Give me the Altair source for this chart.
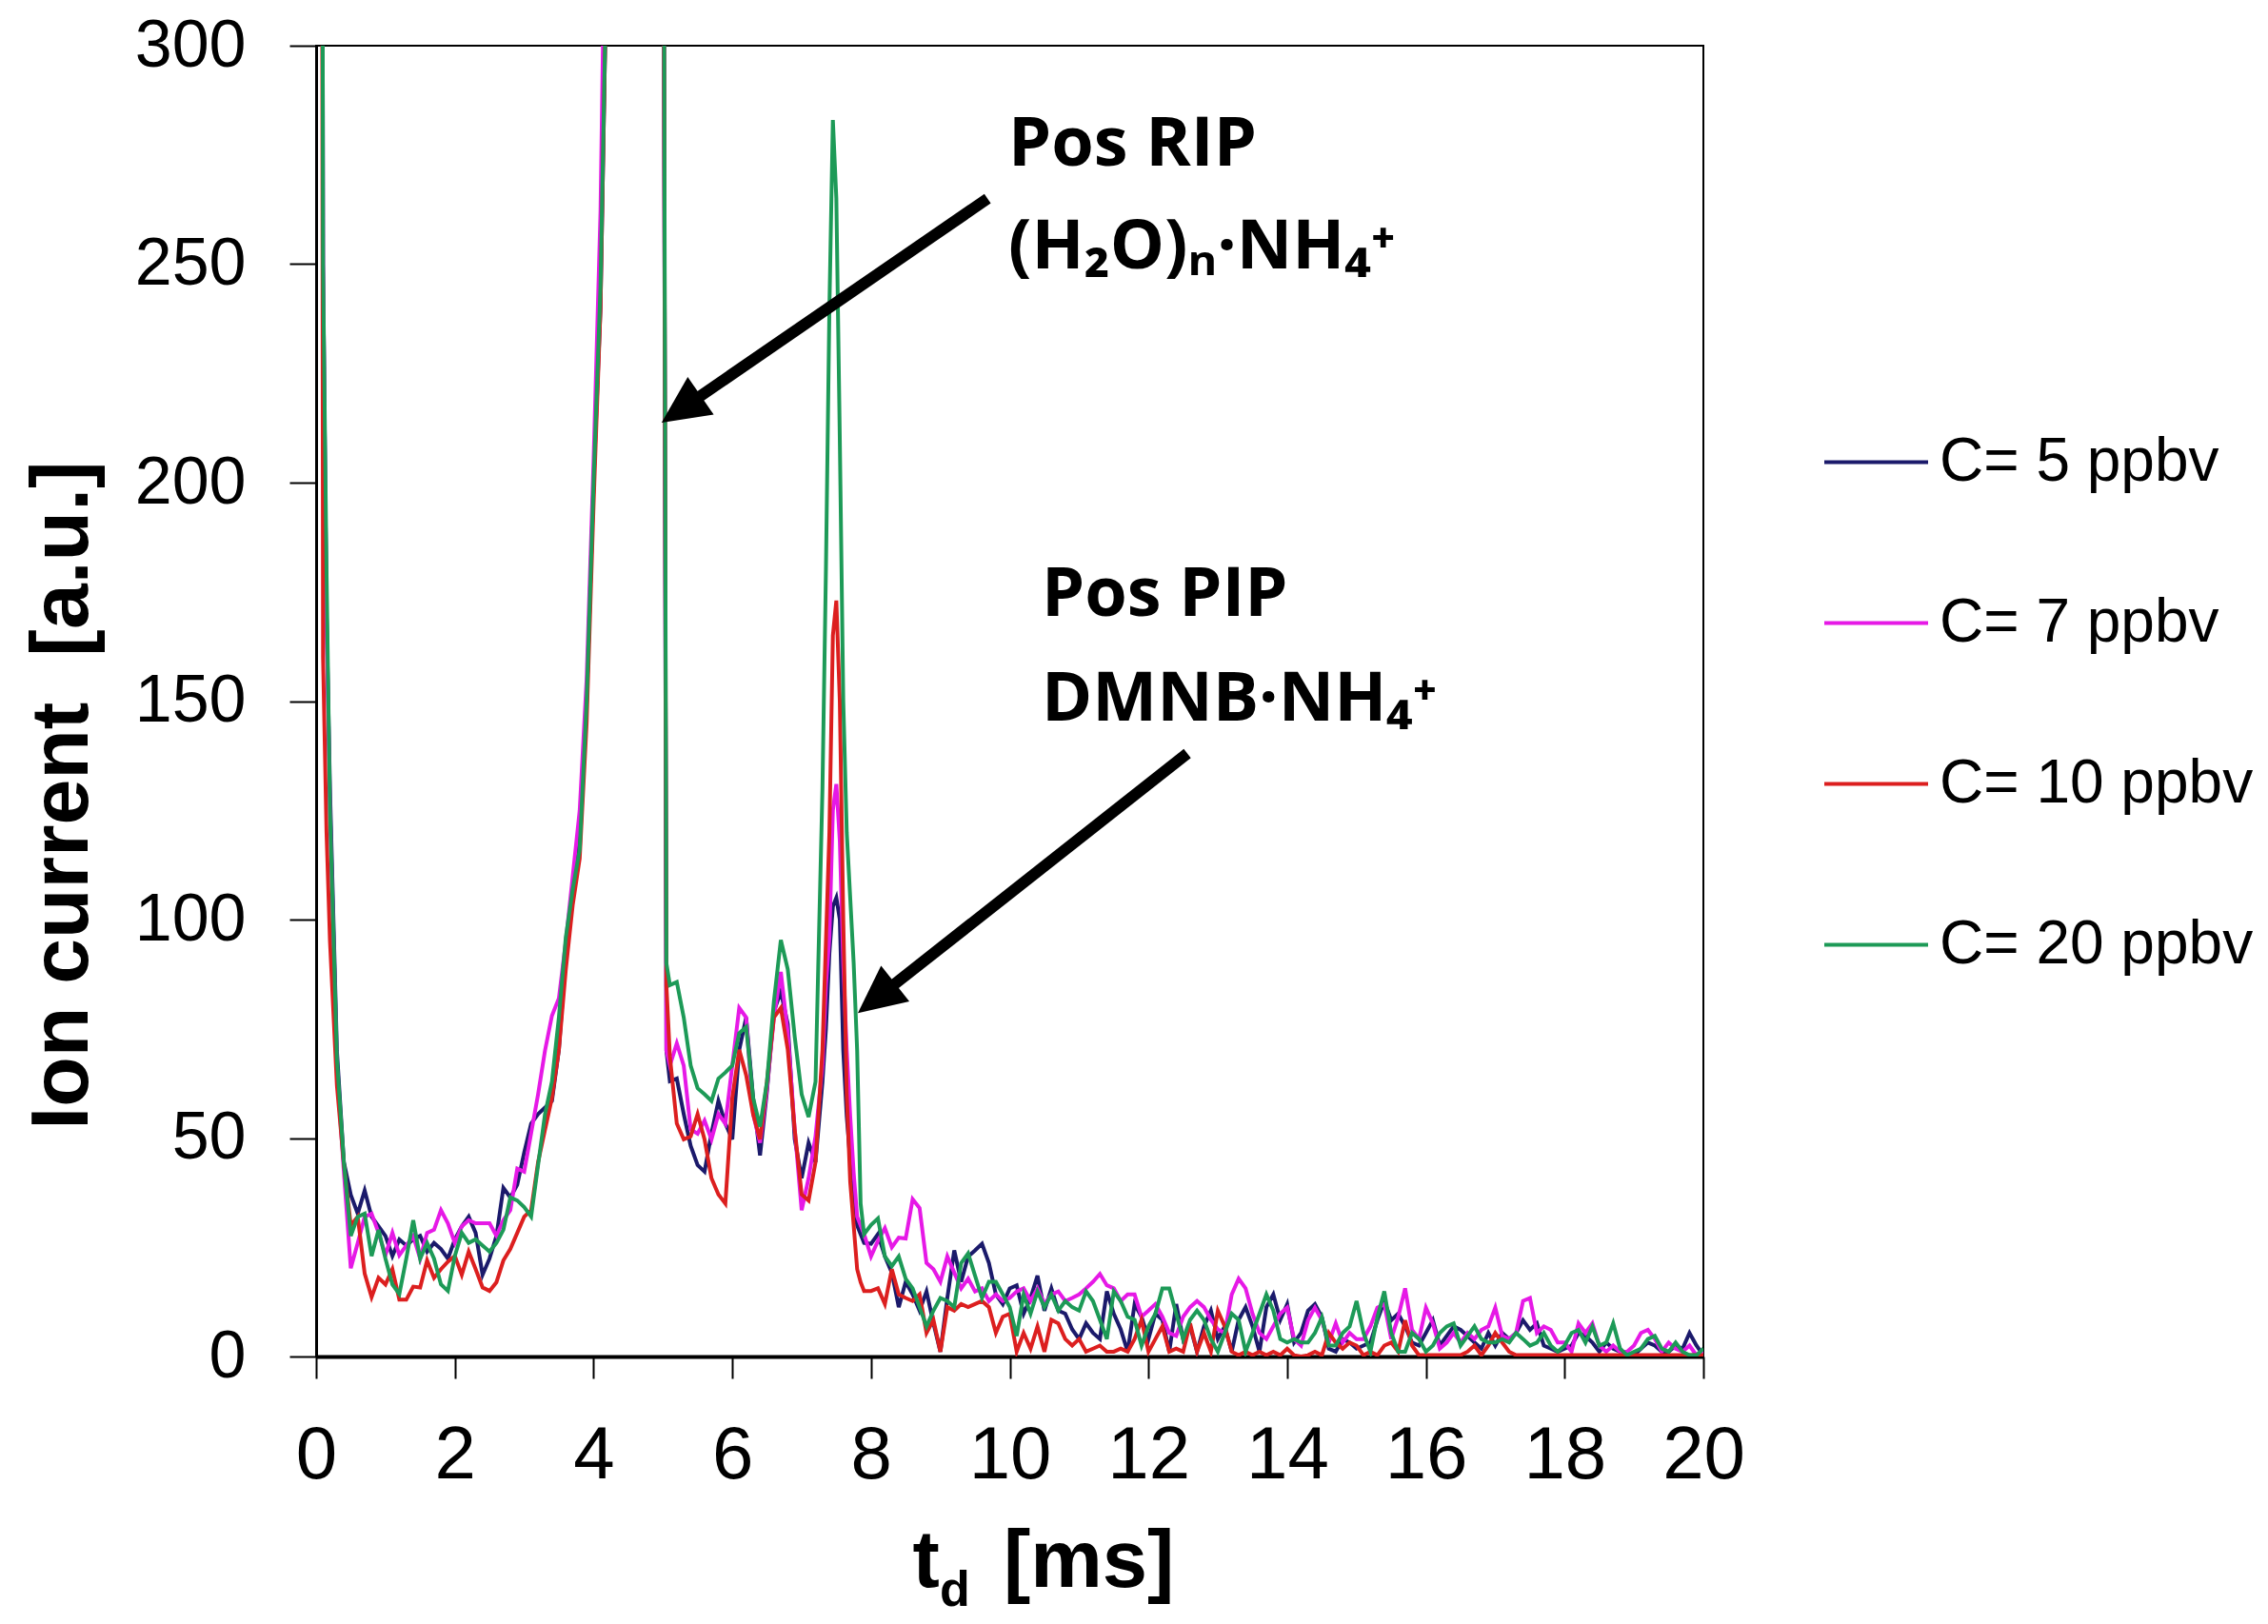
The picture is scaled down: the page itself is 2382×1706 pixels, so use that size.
import altair as alt
import pandas as pd

# ---------------- data ----------------
SERIES = ["C= 5 ppbv", "C= 7 ppbv", "C= 10 ppbv", "C= 20 ppbv"]
COLORS = ["#1b1a6b", "#e619e6", "#dc1f1f", "#1d9a57"]

T_BASE = [round(i * 0.1, 1) for i in range(201)]
EXTRA_T = [0.05, 0.15, 5.05, 7.35, 7.45, 7.55, 7.65, 7.75, 7.85]

NAVY = [
    2000, 250, 130, 70, 44.5, 37, 32.7, 38, 32, 29.8,
    27.6, 23, 26.8, 25.4, 26.8, 27.6, 24, 26, 24.6, 22.4,
    26.8, 29.8, 32, 28.3, 18.7, 22.4, 27.6, 38.6, 36.4, 39.3,
    46.7, 53.3, 55.5, 57, 58.5, 70.2, 92.3, 107, 118, 150,
    200, 240, 330, 700, 1500, 3000, 2500, 1500, 900, 600,
    400, 63, 63.6, 55.5, 48.2, 43.8, 42.3, 51.1, 58.5, 53.3,
    49.7, 70.2, 77.6, 59.2, 46, 60.7, 79, 83.5, 76.1, 49.7,
    40.8, 48.9, 44.5, 62.9, 92.3, 105, 70, 45, 30, 26,
    25.8, 28, 22.9, 19.2, 11.3, 17.1, 14.2, 10.5, 14.9, 7.6,
    1.1, 13.4, 24.3, 17.1, 22.9, 24.3, 25.8, 21.4, 14.2, 12,
    15.6, 16.3, 9.8, 13.4, 18.5, 10.5, 15.6, 10.5, 9.8, 6.2,
    4, 7.6, 5.4, 4, 14.9, 9.8, 6.2, 1.1, 12, 9.1,
    4, 9.8, 8.4, 1.1, 12, 4, 6.9, 1.1, 6.9, 10.5,
    4, 6.9, 1.1, 8.4, 11.3, 6.9, 1.1, 11.3, 14.2, 8.4,
    12, 3.2, 5.4, 10.5, 12, 9, 1.8, 1.1, 4, 3.2,
    1.8, 2.5, 3.2, 8.3, 12.7, 8.3, 9.8, 6.9, 3.2, 2.5,
    5.4, 8.3, 2.5, 4.7, 6.9, 6.1, 4.7, 3.2, 1.8, 5.4,
    2.5, 5.4, 4, 5.4, 8.3, 6.1, 7.6, 2.5, 1.8, 1.1,
    1.8, 2.5, 5.4, 4.7, 3.2, 1.1, 3.2, 1.8, 1.1, 0.3,
    0.3, 1.8, 3.2, 2.5, 1.1, 1.1, 2.5, 1.8, 5.4, 2.5,
    0.3,
]
NAVY_X = [800, 170, 70, 75, 103, 100, 55, 38, 28]

MAGENTA = [
    2000, 250, 125, 66, 42.3, 20.2, 26, 32, 32.7, 28.3,
    23.2, 28.3, 23.2, 25.4, 27.6, 22.4, 28.3, 29, 33.5, 30.5,
    26, 29.8, 31.2, 30.5, 30.5, 30.5, 27.6, 31.2, 33.5, 43,
    42.3, 51.1, 60, 70, 78, 82, 95, 110, 125, 155,
    205, 262, 370, 750, 1500, 3000, 2500, 1500, 900, 600,
    400, 66.6, 71.7, 66.6, 52, 51, 54, 49.7, 55.5, 53.3,
    66.6, 79.8, 77.6, 55.5, 48.9, 61.4, 77.6, 88, 74, 52,
    33.5, 40.8, 50.4, 66.6, 96, 131, 90, 55, 32, 28,
    22.9, 26.5, 29.4, 25, 27.2, 27, 36, 34, 21.4, 20,
    17.1, 22.9, 19.2, 15.6, 17.8, 14.9, 15.6, 12.7, 14.2, 12.7,
    13.4, 14.9, 15.6, 12.7, 15.6, 12, 14.2, 14.9, 12.7, 13.4,
    14.2, 15.6, 17.1, 18.9, 16.3, 15.6, 12.7, 14.2, 14.2, 9.1,
    10.5, 12, 9.1, 5.4, 4.7, 9.1, 11.3, 12.7, 11.3, 8.4,
    6.2, 5.4, 14.2, 17.8, 15.6, 9.8, 5.4, 4, 6.9, 9.8,
    11.2, 4, 2.5, 8.3, 11.2, 8.3, 3.2, 7.6, 3.2, 5.4,
    4, 4, 6.9, 11.2, 12, 4, 9, 15.6, 6.1, 4,
    11.2, 7.6, 1.8, 3.2, 5.4, 3.2, 5.4, 4, 6.1, 6.9,
    11.2, 4.7, 4, 5.4, 12.7, 13.4, 5.4, 6.9, 6.1, 3.2,
    3.2, 1.1, 7.6, 5.4, 7.6, 2.5, 1.1, 2.5, 1.1, 1.1,
    2.5, 5.4, 6.1, 4, 1.1, 3.2, 1.8, 1.1, 2.5, 0.3,
    1.1,
]
MAGENTA_X = [800, 170, 70, 85, 125, 118, 70, 42, 30]

RED = [
    2000, 160, 95, 62, 44, 30, 32, 19, 13.6, 18,
    16.5, 20, 13, 13, 16, 15.8, 22, 18, 20, 21.7,
    23, 18.7, 24, 20, 15.8, 15, 17, 22, 24.6, 28.3,
    32, 33.5, 44.5, 51.9, 59.2, 70.2, 88.6, 103.4, 114, 145,
    195, 240, 330, 700, 1500, 3000, 2500, 1500, 900, 600,
    400, 68.7, 53.3, 49.7, 50.4, 55.5, 49.7, 40.8, 37.1, 35,
    59.2, 70.2, 64.4, 55.5, 49.7, 62.9, 77.6, 79.8, 70.2, 52,
    37.1, 35.7, 44.5, 70.2, 120, 173, 100, 40, 20, 15,
    15, 15.6, 12, 20, 14.2, 13.4, 12.7, 14.2, 5.4, 8.4,
    1.1, 11.3, 10.5, 12, 11.3, 12, 12.7, 11.3, 5.4, 9.1,
    9.8, 1.1, 5.4, 1.8, 6.9, 1.1, 8.4, 7.6, 4, 2.5,
    4, 1.1, 1.8, 2.5, 1.1, 1.1, 1.8, 1.1, 4, 8.4,
    1.1, 4, 6.9, 1.1, 1.8, 1.1, 7.6, 1.1, 5.4, 1.1,
    10.5, 6.9, 1.1, 0.3, 1.1, 0.3, 1.1, 0.3, 1.1, 0.3,
    1.8, 0.3, 0, 0.3, 1.1, 0.3, 5.4, 3.2, 1.8, 3.2,
    2.5, 0.3, 1.1, 0.3, 2.5, 3.2, 1.1, 8.3, 2.5, 0.3,
    0.3, 0.3, 0.3, 0.3, 0.3, 0.3, 1.1, 2.5, 0.3, 2.5,
    5.4, 3.2, 1.1, 0.3, 0.3, 0.3, 0.3, 0.3, 0.3, 0.3,
    0.3, 0.3, 0.3, 0.3, 0.3, 0.3, 0.3, 0.3, 0.3, 0.3,
    0.3, 0.3, 0.3, 0.3, 0.3, 0.3, 0.3, 0.3, 0.3, 0.3,
    0.3,
]
RED_X = [800, 120, 85, 95, 165, 150, 60, 30, 17]

GREEN = [
    2000, 250, 125, 68, 44.5, 27.6, 32, 32.7, 23, 29,
    22.4, 16.5, 14.3, 22.4, 31.2, 22.4, 26, 22.4, 16.5, 15,
    23, 28.3, 26, 26.8, 25.4, 24, 26, 29, 36.4, 35.7,
    34.2, 32, 43.8, 55.5, 62.9, 77.6, 96, 107, 116, 150,
    200, 245, 330, 700, 1500, 3000, 2500, 1500, 900, 600,
    420, 85, 85.7, 77.6, 66.6, 61.4, 60, 58.5, 63.6, 65,
    66.6, 74, 75.4, 59.2, 52.6, 62.9, 81.3, 95.3, 88.6, 73.2,
    60, 54.8, 62.9, 130, 240, 265, 150, 105, 70, 28,
    30.1, 31.6, 22.9, 20.7, 22.9, 17.8, 15.6, 11.3, 6.9, 10.5,
    13.4, 12.7, 11.3, 21.4, 23.6, 18.5, 13.4, 17.1, 17.1, 14.2,
    11.3, 4.7, 14.2, 9.8, 14.9, 11.3, 14.2, 10.5, 12.7, 11.3,
    10.5, 14.9, 12.7, 8.4, 4, 14.9, 12.7, 9.1, 8.4, 2.5,
    6.9, 9.8, 15.6, 15.6, 9.8, 4, 8.4, 10.5, 8.4, 4,
    1.1, 5.4, 9.8, 8.4, 1.1, 5.4, 9.8, 14.2, 10.5, 4,
    3.2, 4, 3.2, 3.2, 5.4, 9, 2.5, 2.5, 5.4, 6.9,
    12.7, 5.4, 1.1, 9, 14.9, 5.4, 1.1, 1.1, 5.4, 4,
    1.1, 2.5, 5.4, 6.9, 7.6, 2.5, 4.7, 6.9, 4, 3.2,
    3.2, 4, 3.2, 5.4, 4, 2.5, 3.2, 5.4, 2.5, 1.1,
    2.5, 5.4, 6.1, 3.2, 6.9, 2.5, 3.2, 7.6, 1.8, 0.3,
    1.1, 1.8, 4, 4.7, 1.8, 1.1, 3.2, 1.1, 0.3, 0.3,
    1.8,
]
GREEN_X = [800, 180, 90, 180, 283, 210, 120, 90, 35]

X_TICKS = [0, 2, 4, 6, 8, 10, 12, 14, 16, 18, 20]
Y_TICKS = [0, 50, 100, 150, 200, 250, 300]
Y_TITLE = "Ion current\u00a0 [a.u.]"

# annotations (data coordinates)
NOTE_TEXT = ["Pos RIP", "(H\u2082O)\u2099\u00b7NH\u2084\u207a", "Pos PIP", "DMNB\u00b7NH\u2084\u207a"]
NOTE_X = [9.98, 9.98, 10.46, 10.46]
NOTE_Y = [272.5, 249.0, 169.5, 145.5]

ARROW_X0 = [9.68, 12.56]
ARROW_Y0 = [265.0, 138.0]
ARROW_X1 = [4.98, 7.81]
ARROW_Y1 = [213.7, 78.6]
ARROW_ANGLE = [235.4, 231.7]

XTITLE_TEXT = ["t", "d", "[ms]"]
XTITLE_X = [8.60, 8.99, 9.91]
XTITLE_Y = [-52.7, -57.0, -52.7]
XTITLE_SIZE = [85, 52, 85]

# ---------------- build tables ----------------
rows = []
for name, base, extra in zip(SERIES, [NAVY, MAGENTA, RED, GREEN],
                             [NAVY_X, MAGENTA_X, RED_X, GREEN_X]):
    pts = sorted(list(zip(T_BASE, base)) + list(zip(EXTRA_T, extra)))
    for t, v in pts:
        rows.append({"t": t, "v": v, "series": name})
df = pd.DataFrame(rows)

arrows = pd.DataFrame({
    "x0": ARROW_X0, "y0": ARROW_Y0, "x1": ARROW_X1, "y1": ARROW_Y1,
    "ang": ARROW_ANGLE,
})
f = 0.07
arrows["xe"] = arrows["x1"] + (arrows["x0"] - arrows["x1"]) * f
arrows["ye"] = arrows["y1"] + (arrows["y0"] - arrows["y1"]) * f

notes = pd.DataFrame({"x": NOTE_X, "y": NOTE_Y, "text": NOTE_TEXT})
xt = pd.DataFrame({"x": XTITLE_X, "y": XTITLE_Y, "text": XTITLE_TEXT, "size": XTITLE_SIZE})

XS = alt.Scale(domain=[0, 20], nice=False, zero=False)
YS = alt.Scale(domain=[0, 300], nice=False, zero=False)

x_axis = alt.Axis(
    values=X_TICKS, tickSize=23, tickWidth=2, tickColor="black",
    domainColor="black", domainWidth=4, labelFont="Liberation Sans",
    labelFontSize=78, labelColor="black", labelPadding=42, labelFlush=False,
    labelOverlap=False, grid=False, title=None,
)
y_axis = alt.Axis(
    values=Y_TICKS, tickSize=28, tickWidth=2, tickColor="black",
    domainColor="black", domainWidth=3, labelFont="Liberation Sans",
    labelFontSize=70, labelColor="black", labelPadding=46, labelOverlap=False,
    grid=False, title=Y_TITLE, titleFont="Liberation Sans",
    titleFontSize=86, titleFontWeight="bold", titleColor="black",
    titleAngle=270, titleX=-267, titleY=787, titleAlign="center",
    titleBaseline="middle",
)

lines = alt.Chart(df).mark_line(strokeWidth=4, clip=True).encode(
    x=alt.X("t:Q", scale=XS, axis=x_axis),
    y=alt.Y("v:Q", scale=YS, axis=y_axis),
    color=alt.Color(
        "series:N",
        scale=alt.Scale(domain=SERIES, range=COLORS),
        sort=SERIES,
        legend=alt.Legend(
            title=None, orient="none", legendX=1582, legendY=381,
            symbolType="stroke", symbolSize=11881, symbolStrokeWidth=4,
            labelFont="Liberation Sans", labelFontSize=64, labelColor="black",
            labelOffset=10, rowPadding=80, padding=0, labelLimit=0,
        ),
    ),
)

shafts = alt.Chart(arrows).mark_rule(color="black", strokeWidth=12).encode(
    x=alt.X("x0:Q", scale=XS, axis=x_axis),
    y=alt.Y("y0:Q", scale=YS, axis=y_axis),
    x2="xe:Q",
    y2="ye:Q",
)

heads = alt.Chart(arrows).mark_point(
    shape="M0,0 L-0.48,1 L0.48,1 Z", filled=True, color="black",
    opacity=1, size=10000, strokeWidth=0,
).encode(
    x=alt.X("x1:Q", scale=XS, axis=x_axis),
    y=alt.Y("y1:Q", scale=YS, axis=y_axis),
    angle=alt.Angle("ang:Q", scale=None),
)

note_marks = alt.Chart(notes).mark_text(
    align="left", baseline="alphabetic", font="Open Sans",
    fontWeight="bold", fontSize=72, color="black",
).encode(
    x=alt.X("x:Q", scale=XS, axis=x_axis),
    y=alt.Y("y:Q", scale=YS, axis=y_axis),
    text="text:N",
)

xtitle = alt.Chart(xt).mark_text(
    align="left", baseline="alphabetic", font="Liberation Sans",
    fontWeight="bold", color="black",
).encode(
    x=alt.X("x:Q", scale=XS, axis=x_axis),
    y=alt.Y("y:Q", scale=YS, axis=y_axis),
    text="text:N",
    size=alt.Size("size:Q", scale=None),
)

chart = alt.layer(lines, shafts, heads, note_marks, xtitle).properties(
    width=1457, height=1377,
    padding={"left": 324, "top": 40, "right": 585, "bottom": 280},
    autosize=alt.AutoSizeParams(type="none"),
    background="white",
).configure_view(stroke="black", strokeWidth=2)

chart.save("out.html", embed_options={"renderer": "svg", "actions": False})
